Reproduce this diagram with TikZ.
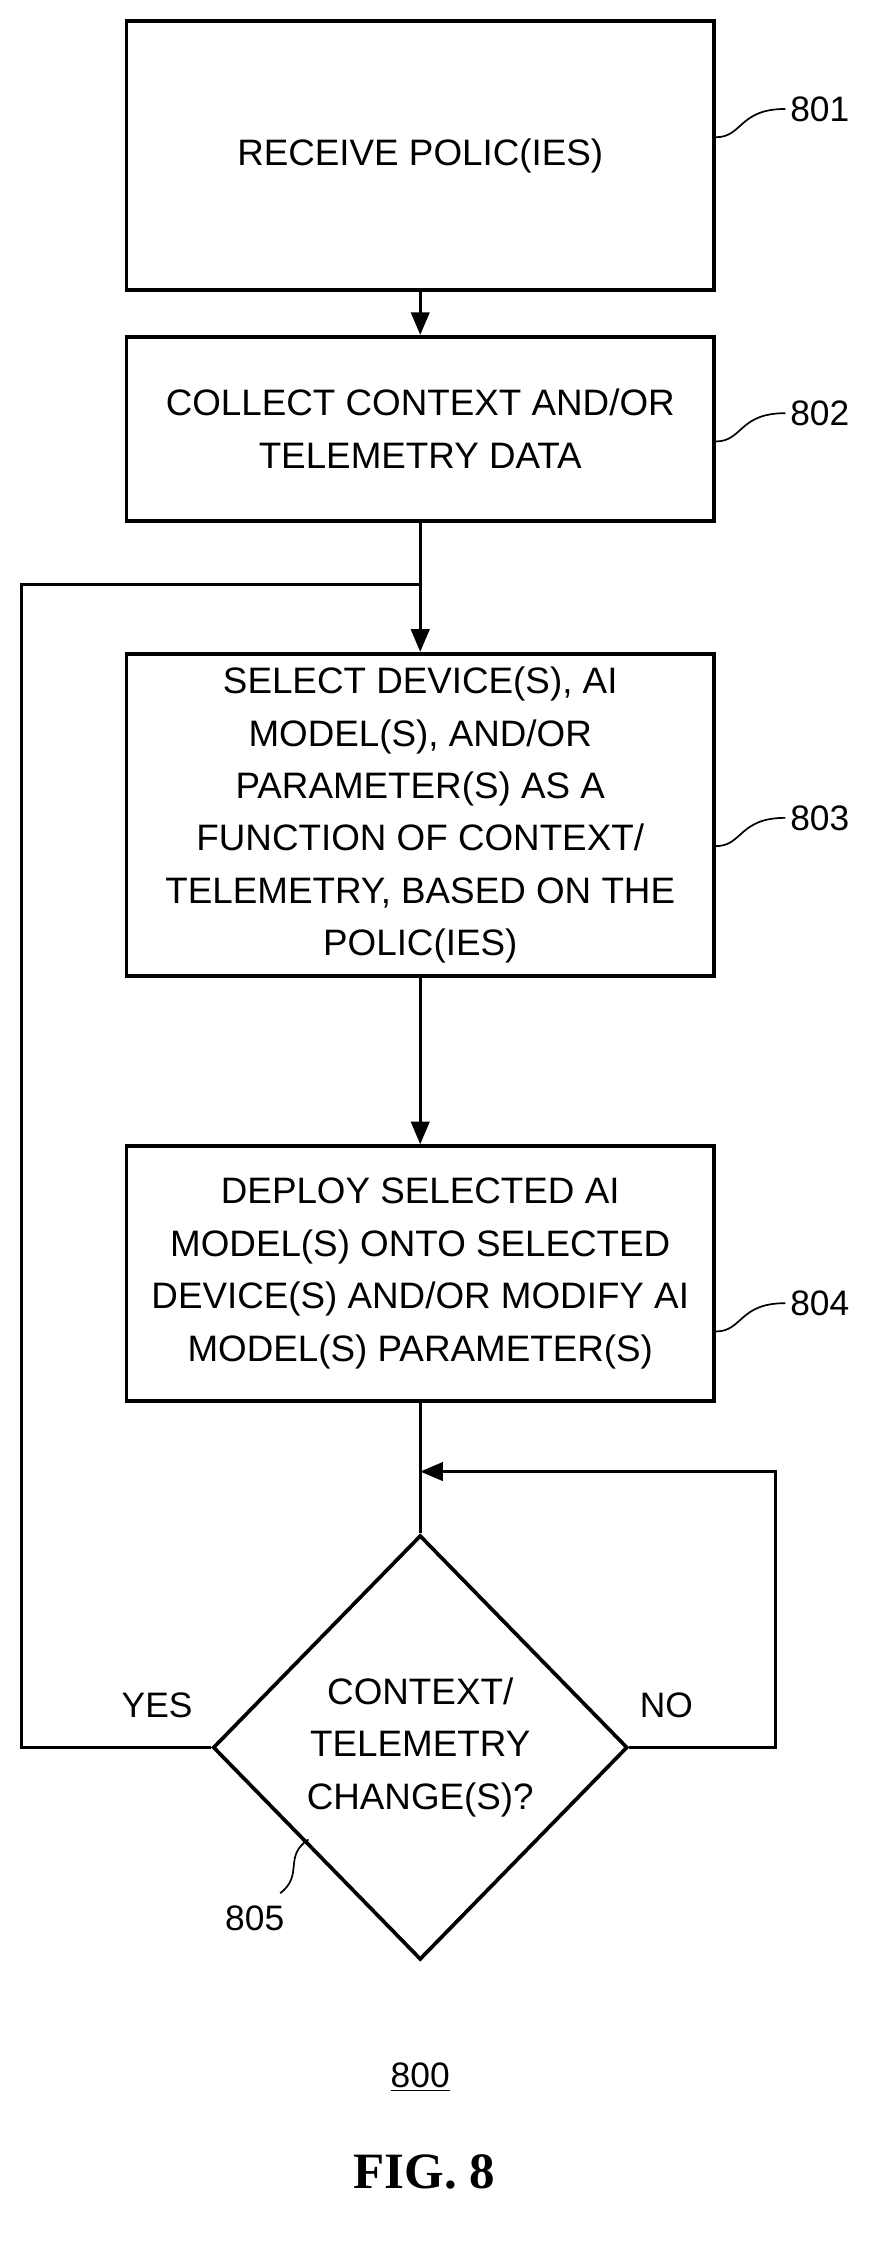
\documentclass[tikz,border=0pt]{standalone}
\usepackage{fontspec}
\setmainfont{Liberation Sans}
\newfontfamily\figfont{Liberation Serif}
\usetikzlibrary{shapes.geometric,arrows.meta,positioning}
\tikzset{
  stepbox/.style={draw,line width=2.6pt,minimum width=415pt,align=center,font=\fontsize{26}{37}\selectfont},
  flow/.style={line width=2pt,-{Triangle[length=16pt,width=13pt]}},
  line/.style={line width=2pt},
  tag/.style={font=\fontsize{25}{30}\selectfont},
  squig/.style={line width=1.2pt}
}
\begin{document}
\begin{tikzpicture}[x=1pt,y=-1pt]
\useasboundingbox (0,0) rectangle (627,1593);
%Boxes
\node[stepbox,minimum height=190pt] (recv) at (297,110) {RECEIVE POLIC(IES)};
\node[stepbox,minimum height=130pt] (coll) at (297,303) {COLLECT CONTEXT AND/OR\\TELEMETRY DATA};
\node[stepbox,minimum height=228pt] (sel) at (297,576) {SELECT DEVICE(S), AI\\MODEL(S), AND/OR\\PARAMETER(S) AS A\\FUNCTION OF CONTEXT/\\TELEMETRY, BASED ON THE\\POLIC(IES)};
\node[stepbox,minimum height=180pt] (dep) at (297,900) {DEPLOY SELECTED AI\\MODEL(S) ONTO SELECTED\\DEVICE(S) AND/OR MODIFY AI\\MODEL(S) PARAMETER(S)};
\node[diamond,draw,line width=2.6pt,minimum width=293pt,minimum height=300pt,inner sep=0pt,align=center,font=\fontsize{26}{37}\selectfont] (chg) at (297,1235) {CONTEXT/\\TELEMETRY\\CHANGE(S)?};

%Connectors
\draw[flow] (recv) -- (coll);
\draw[flow] (sel) -- (dep);
\coordinate (top) at (297,413);
\coordinate (ret) at (297,1040);
\draw[flow] (coll.south -| top) -- (sel.north -| top);
\draw[line] (dep.south) -- (chg.north);
\draw[line] (chg.west) -- (15,1235) -- (15,413) -- (top);
\draw[flow] (chg.east) -- (548,1235) -- (548,1040) -- (ret);
\node[tag] (yes) at (111,1205) {YES};
\node[tag] (no) at (471,1205) {NO};

%Reference tags
\foreach \n/\y in {recv/77,coll/292,sel/578,dep/921}
  \draw[squig] (\n.east |- 0,\y+20) .. controls (525,\y+20) and (522,\y) .. (555,\y);
\node[tag,anchor=west] (t801) at (555,77) {801};
\node[tag,anchor=west] (t802) at (555,292) {802};
\node[tag,anchor=west] (t803) at (555,578) {803};
\node[tag,anchor=west] (t804) at (555,921) {804};
\draw[squig] (218,1300) .. controls (200,1312) and (215,1325) .. (198,1338);
\node[tag] (t805) at (180,1356) {805};
\node[tag] (t800) at (297,1468) {\underline{800}};
\node[font=\figfont\bfseries\fontsize{36}{42}\selectfont] (fig) at (300,1535) {FIG. 8};
\end{tikzpicture}
\end{document}
